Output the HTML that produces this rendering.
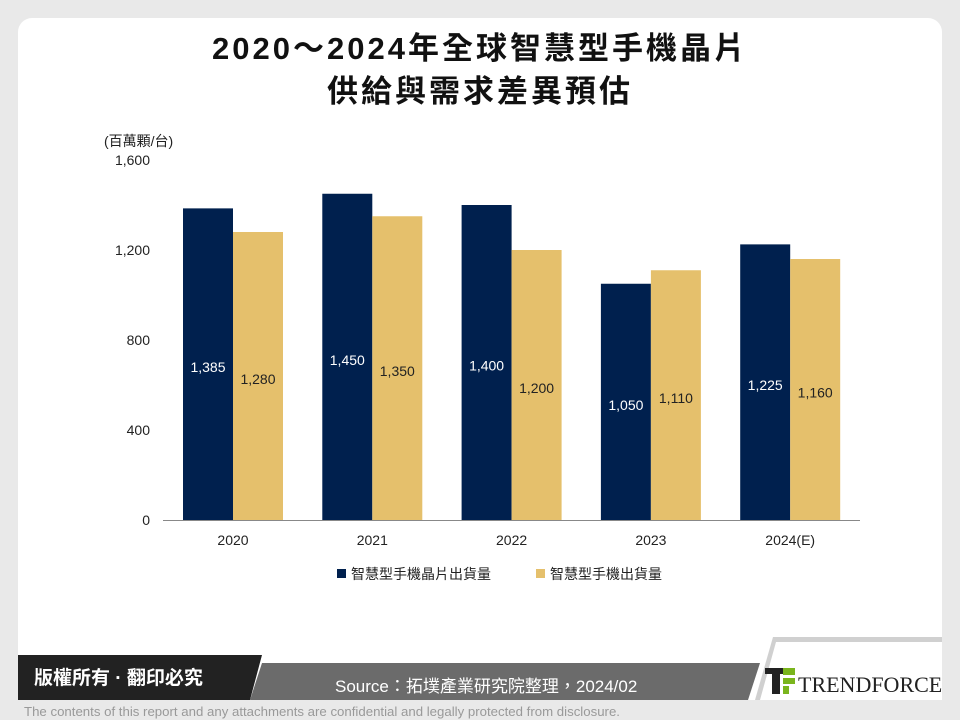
<!DOCTYPE html>
<html><head><meta charset="utf-8"><style>
body{margin:0;width:960px;height:720px;background:#e9e9e9;font-family:"Liberation Sans","Noto Sans CJK TC",sans-serif;overflow:hidden;position:relative}
.card{position:absolute;left:18px;top:18px;width:924px;height:682px;background:#fff;border-radius:14px}
.title{position:absolute;left:0;width:960px;top:27px;text-align:center;font-weight:bold;font-size:31px;letter-spacing:3px;line-height:43px;color:#111;font-family:"Liberation Sans","Noto Sans CJK TC",sans-serif}
</style></head><body>
<div class="card"></div>
<div class="title">2020～2024年全球智慧型手機晶片<br>供給與需求差異預估</div>
<svg id="chart" width="960" height="720" style="position:absolute;left:0;top:0">
<text x="104" y="146" font-size="14" fill="#222">(百萬顆/台)</text>
<g id="g"></g>
<g>
<rect x="337" y="569" width="9" height="9" fill="#00204e"/>
<text x="351" y="579" font-size="14" fill="#222">智慧型手機晶片出貨量</text>
<rect x="536" y="569" width="9" height="9" fill="#e5c06c"/>
<text x="550" y="579" font-size="14" fill="#222">智慧型手機出貨量</text>
</g>
<g>
<polygon points="18,655 262,655 250,700 18,700" fill="#222"/>
<polygon points="262,663 760,663 748,700 250,700" fill="#6b6b6b"/>
<polygon points="773,637 942,637 942,700 755,700" fill="#d0d0d0"/>
<polygon points="776,642 942,642 942,700 760,700" fill="#fff"/>
<text x="34" y="684" font-size="19" font-weight="bold" fill="#fff">版權所有 · 翻印必究</text>
<text x="335" y="692" font-size="17" fill="#fff">Source：拓墣產業研究院整理，2024/02</text>
<rect x="765" y="668" width="20" height="6" fill="#222"/>
<rect x="772" y="674" width="8" height="20" fill="#222"/>
<rect x="783" y="668" width="12" height="7" fill="#7ab51d"/>
<rect x="783" y="678" width="12" height="6" fill="#7ab51d"/>
<rect x="783" y="686" width="6" height="8" fill="#7ab51d"/>
<text x="798" y="692" font-size="22" font-family="Liberation Serif,serif" fill="#222">TRENDFORCE</text>
<text x="24" y="716" font-size="13" fill="#999" textLength="596" lengthAdjust="spacingAndGlyphs">The contents of this report and any attachments are confidential and legally protected from disclosure.</text>
</g>
</svg>
<script>
const categories=["2020","2021","2022","2023","2024(E)"];
const chipValues=[1385,1450,1400,1050,1225];
const phoneValues=[1280,1350,1200,1110,1160];
const yTicks=[0,400,800,1200,1600];
const tickLabels=["0","400","800","1,200","1,600"];
const NS="http://www.w3.org/2000/svg";
const g=document.getElementById("g");
const y=v=>520-v*0.225;
const xc=i=>233+i*139.3;
function mk(t,a){const e=document.createElementNS(NS,t);for(const k in a)e.setAttribute(k,a[k]);g.appendChild(e);return e;}
const fmt=v=>v.toLocaleString("en-US");
yTicks.forEach((t,i)=>{
 const e=mk("text",{x:150,y:y(t)+5,"text-anchor":"end","font-size":14,fill:"#222"});
 e.textContent=tickLabels[i];
 
 
});
categories.forEach((c,i)=>{
 const b1=mk("rect",{x:xc(i)-50,y:y(chipValues[i]),width:50,height:520-y(chipValues[i]),fill:"#00204e"});
 
 
 const b2=mk("rect",{x:xc(i),y:y(phoneValues[i]),width:50,height:520-y(phoneValues[i]),fill:"#e5c06c"});
 
 
 const l1=mk("text",{x:xc(i)-25,y:(y(chipValues[i])+520)/2+8,"text-anchor":"middle","font-size":14,fill:"#fff"});
 l1.textContent=fmt(chipValues[i]);
 
 
 const l2=mk("text",{x:xc(i)+25,y:(y(phoneValues[i])+520)/2+8,"text-anchor":"middle","font-size":14,fill:"#222"});
 l2.textContent=fmt(phoneValues[i]);
 
 
 const xl=mk("text",{x:xc(i),y:545,"text-anchor":"middle","font-size":14,fill:"#222"});
 xl.textContent=c;
 
 
});
const ax=mk("line",{x1:163,x2:860,y1:520.5,y2:520.5,stroke:"#888","stroke-width":1});


</script>
</body></html>
